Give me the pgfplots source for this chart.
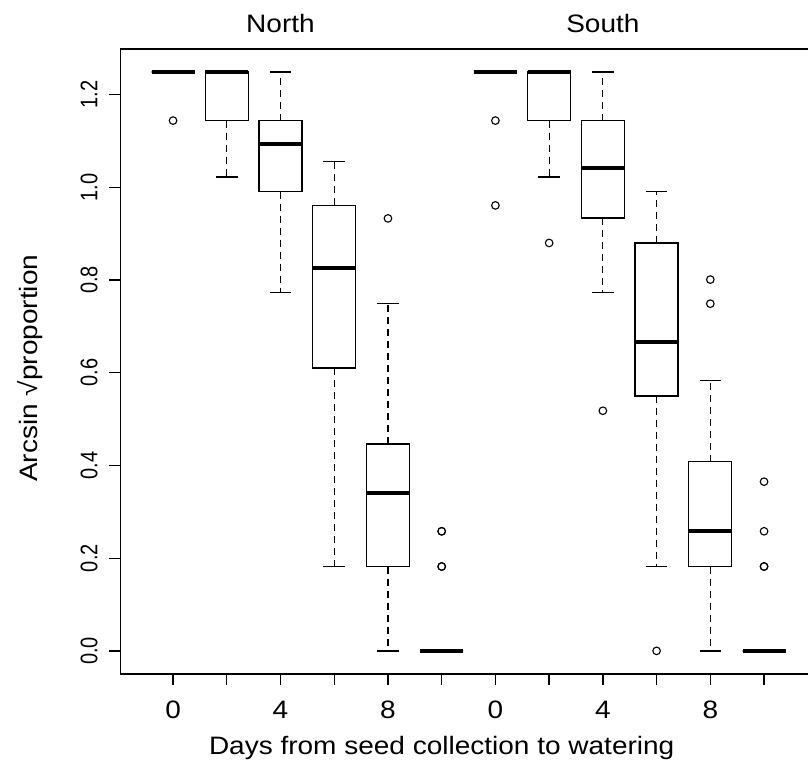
\documentclass[border=0pt]{standalone}
\usepackage{fontspec}
\setmainfont{Liberation Sans}
\usepackage{graphicx}
\usepackage{pgfplots}
\pgfplotsset{compat=1.18}
\usepgfplotslibrary{statistics}

% glyph proportions of the R device
\newcommand{\sq}[1]{\scalebox{1}[0.9]{#1}}
\newcommand{\yt}[1]{\scalebox{1}[1.2]{#1}}
\newcommand{\bigfont}{\fontsize{28}{30}\selectfont}

\pgfplotsset{
  rbox/.style={
    black, solid, line width=1.3pt,
    mark=o, mark size=3.8pt, mark options={black, solid, line width=1.1pt},
    boxplot/draw direction=y,
    boxplot/box extend=0.8,
    boxplot/whisker extend=0.4,
    boxplot/every box/.style={draw=black, line width=1.3pt},
    boxplot/every median/.style={draw=black, line width=4pt},
    boxplot/draw/lower whisker/.code={%
      \draw[black, line width=1.2pt, dash pattern=on 7pt off 5pt]
        (boxplot box cs:\pgfplotsboxplotvalue{lower quartile},0.5)
        -- (boxplot box cs:\pgfplotsboxplotvalue{lower whisker},0.5);
      \draw[black, line width=1.3pt]
        (boxplot whisker cs:\pgfplotsboxplotvalue{lower whisker},0)
        -- (boxplot whisker cs:\pgfplotsboxplotvalue{lower whisker},1);
    },
    boxplot/draw/upper whisker/.code={%
      \draw[black, line width=1.2pt, dash pattern=on 7pt off 5pt]
        (boxplot box cs:\pgfplotsboxplotvalue{upper quartile},0.5)
        -- (boxplot box cs:\pgfplotsboxplotvalue{upper whisker},0.5);
      \draw[black, line width=1.3pt]
        (boxplot whisker cs:\pgfplotsboxplotvalue{upper whisker},0)
        -- (boxplot whisker cs:\pgfplotsboxplotvalue{upper whisker},1);
    },
  },
}

\begin{document}
\begin{tikzpicture}
\begin{axis}[
  scale only axis, width=696.3pt, height=625.2pt,
  xmin=0.02, xmax=12.98, ymin=-0.0499, ymax=1.2989,
  clip=false,
  axis line style={line width=1.5pt},
  tick align=outside, tick pos=left,
  major tick length=11pt,
  major tick style={line width=1.3pt, black},
  xtick={1,2,3,4,5,6,7,8,9,10,11,12},
  xticklabels={\sq{0},{},\sq{4},{},\sq{8},{},\sq{0},{},\sq{4},{},\sq{8},{}},
  ytick={0,0.2,0.4,0.6,0.8,1.0,1.2},
  yticklabels={\yt{0.0},\yt{0.2},\yt{0.4},\yt{0.6},\yt{0.8},\yt{1.0},\yt{1.2}},
  xticklabel style={font=\bigfont, anchor=base},
  xticklabel shift=33.3pt,
  yticklabel style={font=\fontsize{20}{24}\selectfont, rotate=90, anchor=base},
  yticklabel shift=12.1pt,
  xlabel={\sq{Days from seed collection to watering}},
  xlabel style={font=\bigfont, at={([yshift=-81pt]axis description cs:0.4614,0)}, anchor=base},
  ylabel={\sq{Arcsin √proportion}},
  ylabel style={font=\bigfont, at={([xshift=-82.7pt]axis description cs:0,0.489)}, anchor=base},
]
% North
\addplot[rbox, boxplot prepared={draw position=1, lower whisker=1.249, lower quartile=1.249, median=1.249, upper quartile=1.249, upper whisker=1.249}] coordinates {(0,1.144)};
\addplot[rbox, boxplot prepared={draw position=2, lower whisker=1.022, lower quartile=1.144, median=1.249, upper quartile=1.249, upper whisker=1.249}] coordinates {};
\addplot[rbox, boxplot prepared={draw position=3, lower whisker=0.773, lower quartile=0.991, median=1.094, upper quartile=1.144, upper whisker=1.249}] coordinates {};
\addplot[rbox, boxplot prepared={draw position=4, lower whisker=0.182, lower quartile=0.610, median=0.825, upper quartile=0.961, upper whisker=1.056}] coordinates {};
\addplot[rbox, boxplot prepared={draw position=5, lower whisker=0, lower quartile=0.182, median=0.340, upper quartile=0.446, upper whisker=0.749}] coordinates {(0,0.933)};
\addplot[rbox, boxplot prepared={draw position=6, lower whisker=0, lower quartile=0, median=0, upper quartile=0, upper whisker=0}] coordinates {(0,0.258) (0,0.258) (0,0.182) (0,0.182)};
% South
\addplot[rbox, boxplot prepared={draw position=7, lower whisker=1.249, lower quartile=1.249, median=1.249, upper quartile=1.249, upper whisker=1.249}] coordinates {(0,1.144) (0,0.961)};
\addplot[rbox, boxplot prepared={draw position=8, lower whisker=1.022, lower quartile=1.144, median=1.249, upper quartile=1.249, upper whisker=1.249}] coordinates {(0,0.880)};
\addplot[rbox, boxplot prepared={draw position=9, lower whisker=0.773, lower quartile=0.934, median=1.041, upper quartile=1.144, upper whisker=1.249}] coordinates {(0,0.518)};
\addplot[rbox, boxplot prepared={draw position=10, lower whisker=0.182, lower quartile=0.550, median=0.667, upper quartile=0.880, upper whisker=0.991}] coordinates {(0,0)};
\addplot[rbox, boxplot prepared={draw position=11, lower whisker=0, lower quartile=0.182, median=0.258, upper quartile=0.408, upper whisker=0.583}] coordinates {(0,0.801) (0,0.749)};
\addplot[rbox, boxplot prepared={draw position=12, lower whisker=0, lower quartile=0, median=0, upper quartile=0, upper whisker=0}] coordinates {(0,0.365) (0,0.258) (0,0.182) (0,0.182)};
\node[font=\bigfont, anchor=base] at ([yshift=16.5pt]axis description cs:0.2299,1) {\sq{North}};
\node[font=\bigfont, anchor=base] at ([yshift=16.5pt]axis description cs:0.6929,1) {\sq{South}};
\end{axis}
\pgfresetboundingbox
\path[use as bounding box] (-120.4pt,-93pt) rectangle (687.6pt,674pt);
\end{tikzpicture}
\end{document}
